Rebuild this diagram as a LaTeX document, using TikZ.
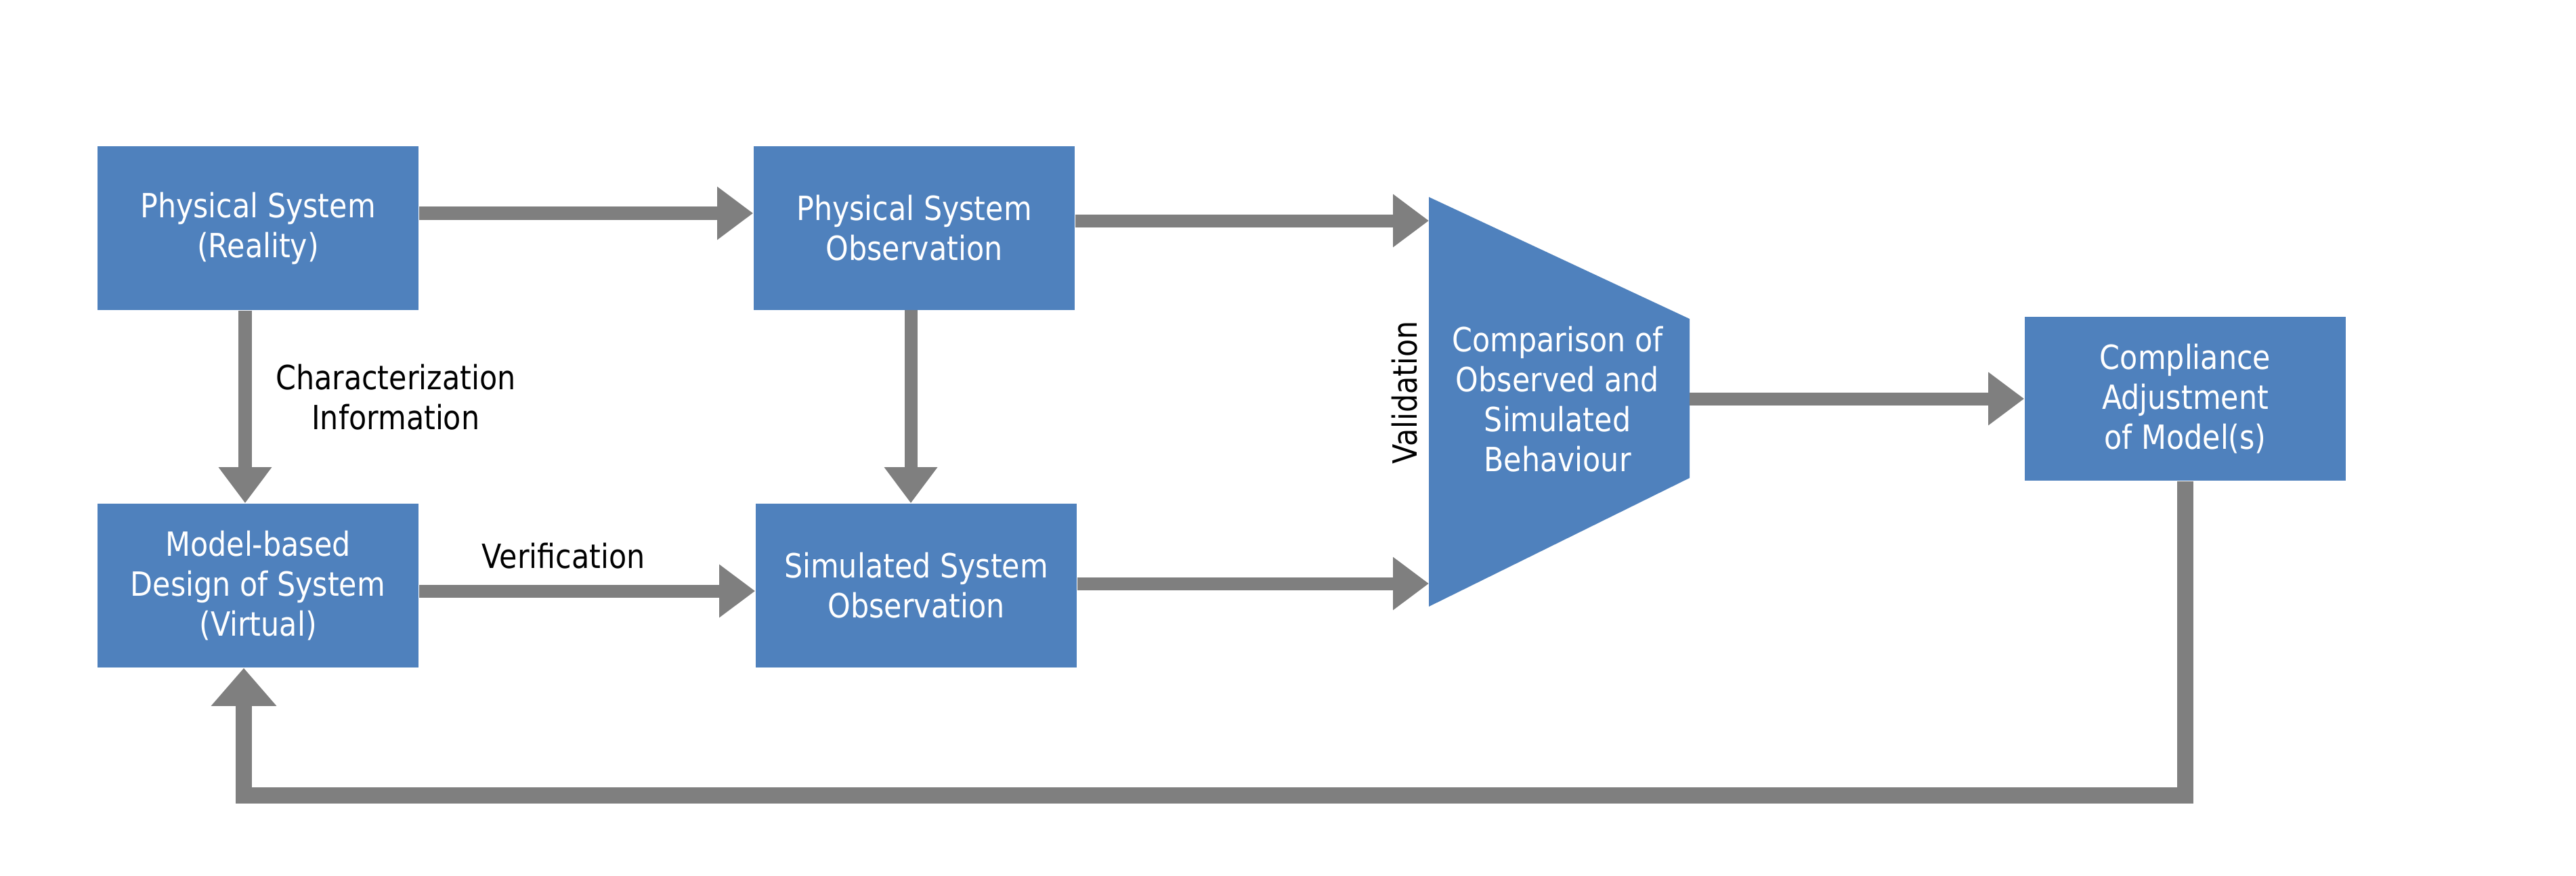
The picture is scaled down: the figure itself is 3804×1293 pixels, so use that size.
\documentclass[tikz,border=0pt]{standalone}
\usepackage{fontspec}
\setmainfont{DejaVu Sans}[FakeStretch=0.87]
\usetikzlibrary{arrows.meta}
\definecolor{boxblue}{HTML}{4F81BD}
\definecolor{flowgray}{HTML}{7F7F7F}
\begin{document}
\begin{tikzpicture}[x=0.01cm,y=-0.01cm]
		\tikzset{block/.style = {shape=rectangle,fill=boxblue,text=white,minimum width=4.74cm,minimum height=2.42cm,align=center,font=\fontsize{14}{16.8}\selectfont}}
		\tikzset{lbl/.style = {align=center,font=\fontsize{14}{16.8}\selectfont}}
		\tikzset{flow/.style = {draw=flowgray,line width=0.19cm,-{Triangle[length=0.53cm,width=0.75cm]}}}
		\tikzset{back/.style = {draw=flowgray,line width=0.24cm,-{Triangle[length=0.56cm,width=0.93cm]}}}
		\useasboundingbox (0,0) rectangle (3804,1293);
		\node[block] (phys) at  (381,337) {Physical System\\(Reality)};
		\node[block] (physobs) at  (1350,337) {Physical System\\Observation};
		\node[block] (model) at  (381,865) {Model-based\\Design of System\\(Virtual)};
		\node[block] (simobs) at  (1353,865) {Simulated System\\Observation};
		\node[block] (adjust) at  (3227,589) {Compliance\\Adjustment\\of Model(s)};
		% comparison block
		\fill[boxblue] (2110,291) -- (2495,471) -- (2495,706) -- (2110,896) -- cycle;
		\node[lbl,text=white] (compare) at (2300,590) {Comparison of\\Observed and\\Simulated\\Behaviour};
		\node[lbl,rotate=90] (valid) at (2074,580) {Validation};
		\coordinate (cmpin1) at (2110,326);
		\coordinate (cmpin2) at (2110,862);
		\coordinate (cmpout) at (2495,589);
		\coordinate (obsdrop) at (1345,458);
		\coordinate (fbcorner) at (360,1175);
		\path ([yshift=0.22cm]phys.east) edge[flow] ([yshift=0.22cm]physobs.west);
		\path ([xshift=-0.19cm]phys.south) edge[flow] node[lbl,right=0.24cm,pos=0.45] {Characterization\\Information} ([xshift=-0.19cm]model.north);
		\path (obsdrop) edge[flow] (obsdrop |- simobs.north);
		\path ([yshift=-0.08cm]model.east) edge[flow] node[lbl,above=0.12cm,pos=0.43] {Verification} ([yshift=-0.08cm]simobs.west);
		\path (physobs.east |- cmpin1) edge[flow] (cmpin1);
		\path (simobs.east |- cmpin2) edge[flow] (cmpin2);
		\path (cmpout) edge[flow] (adjust.west);
		\draw[back] (adjust.south) |- (fbcorner) -- (fbcorner |- model.south);
	\end{tikzpicture}
\end{document}
